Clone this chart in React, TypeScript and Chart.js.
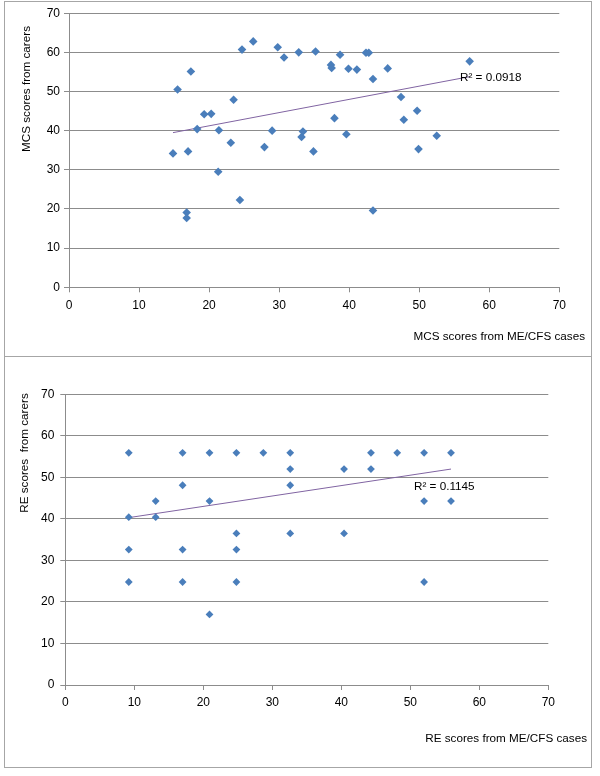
import React, { useEffect, useRef } from "react";
import { Chart, registerables } from "chart.js";

Chart.register(...registerables);

// ---- Data: MCS panel ----
const mcsCases = [
  14.85, 15.5, 16.8, 16.8, 17.0, 17.4, 18.3, 19.3, 20.3, 21.3, 21.4, 23.1, 23.5, 24.4, 24.7,
  26.3, 27.9, 29.0, 29.8, 30.7, 32.8, 33.2, 33.4, 34.9, 35.2, 37.4, 37.5, 37.9, 38.7, 39.6,
  39.9, 41.1, 42.4, 42.8, 43.4, 43.4, 45.5, 47.4, 47.8, 49.7, 49.9, 52.5, 57.2,
];
const mcsCarers = [
  34.2, 50.5, 19.1, 17.7, 34.7, 55.1, 40.4, 44.2, 44.3, 29.5, 40.1, 36.9, 47.9, 22.3, 60.7,
  62.8, 35.8, 40.0, 61.3, 58.7, 60.0, 38.4, 39.8, 34.7, 60.2, 56.8, 56.0, 43.2, 59.4, 39.1,
  55.8, 55.6, 59.9, 59.9, 53.2, 19.6, 55.9, 48.6, 42.8, 45.1, 35.3, 38.7, 57.7,
];
const mcsTrendX = [14.85, 57.2];
const mcsTrendY = [39.5, 53.8];
const mcsR2Label = "R\u00B2 = 0.0918";

// ---- Data: RE panel ----
const reCases = [
  9.2, 9.2, 9.2, 9.2, 13.1, 13.1, 17.0, 17.0, 17.0, 17.0, 20.9, 20.9, 20.9, 24.8, 24.8, 24.8,
  24.8, 28.7, 32.6, 32.6, 32.6, 32.6, 40.4, 40.4, 44.3, 44.3, 48.1, 52.0, 52.0, 52.0, 55.9, 55.9,
];
const reCarers = [
  55.9, 40.4, 32.6, 24.8, 44.3, 40.4, 55.9, 48.1, 32.6, 24.8, 55.9, 44.3, 17.0, 55.9, 36.5, 32.6,
  24.8, 55.9, 55.9, 52.0, 48.1, 36.5, 52.0, 36.5, 55.9, 52.0, 55.9, 55.9, 44.3, 24.8, 55.9, 44.3,
];
const reTrendX = [9.2, 55.9];
const reTrendY = [40.3, 52.0];
const reR2Label = "R\u00B2 = 0.1145";

const axisMin = 0;
const axisMax = 70;
const axisStep = 10;

const FONT = '"Liberation Sans", Arial, sans-serif';
const GRID = "#8c8c8c";
const MARKER = "#4A7EBB";
const TREND = "#8064A2";

const textPlugin = {
  id: "panelText",
  afterDraw(chart: any, _args: any, opts: any) {
    const ctx = chart.ctx;
    for (const t of opts.items || []) {
      ctx.save();
      ctx.font = `${t.size}px ${FONT}`;
      ctx.fillStyle = "#000";
      ctx.textAlign = t.align;
      ctx.textBaseline = "middle";
      ctx.translate(t.x, t.y);
      if (t.rotate) ctx.rotate(-Math.PI / 2);
      ctx.fillText(t.text, 0, 0);
      ctx.restore();
    }
  },
};

type PanelProps = {
  xs: number[];
  ys: number[];
  tx: number[];
  ty: number[];
  width: number;
  height: number;
  padTop: number;
  yAxisWidth: number;
  xAxisHeight: number;
  padRight: number;
  yTickPad: number;
  xTickPad: number;
  pointR: number;
  texts: any[];
};

function Panel(p: PanelProps) {
  const ref = useRef<HTMLCanvasElement>(null);
  useEffect(() => {
    if (!ref.current) return;
    const chart = new Chart(ref.current, {
      type: "scatter",
      data: {
        datasets: [
          {
            type: "line",
            data: p.tx.map((x, i) => ({ x, y: p.ty[i] })),
            borderColor: TREND,
            borderWidth: 1,
            pointRadius: 0,
            fill: false,
            order: 2,
          } as any,
          {
            data: p.xs.map((x, i) => ({ x, y: p.ys[i] })),
            pointStyle: "rectRot",
            pointRadius: p.pointR,
            pointHoverRadius: p.pointR,
            backgroundColor: MARKER,
            borderColor: MARKER,
            borderWidth: 0,
            order: 1,
          },
        ],
      },
      options: {
        animation: false,
        responsive: false,
        maintainAspectRatio: false,
        layout: { padding: { left: 0, right: p.padRight, top: p.padTop, bottom: 0 } },
        plugins: {
          legend: { display: false },
          tooltip: { enabled: false },
          panelText: { items: p.texts },
        } as any,
        scales: {
          x: {
            type: "linear",
            min: axisMin,
            max: axisMax,
            ticks: {
              stepSize: axisStep,
              color: "#000",
              font: { size: 12, family: FONT },
              padding: p.xTickPad,
              maxRotation: 0,
            },
            grid: {
              display: true,
              drawOnChartArea: false,
              drawTicks: true,
              tickLength: 5,
              color: GRID,
            },
            border: { display: true, color: GRID },
            afterFit: (s: any) => {
              s.height = p.xAxisHeight;
            },
          },
          y: {
            type: "linear",
            min: axisMin,
            max: axisMax,
            ticks: {
              stepSize: axisStep,
              color: "#000",
              font: { size: 12, family: FONT },
              padding: p.yTickPad,
            },
            grid: {
              display: true,
              drawOnChartArea: true,
              drawTicks: true,
              tickLength: 5,
              color: GRID,
            },
            border: { display: true, color: GRID },
            afterFit: (s: any) => {
              s.width = p.yAxisWidth;
            },
          },
        },
      } as any,
      plugins: [textPlugin],
    });
    return () => chart.destroy();
  }, []);
  return <canvas ref={ref} width={p.width} height={p.height} style={{ display: "block", width: p.width, height: p.height }} />;
}

export default function App() {
  return (
    <div style={{ position: "absolute", left: 0, top: 0, width: 600, height: 776, background: "#fff" }}>
      <div
        style={{
          position: "absolute",
          left: 4,
          top: 1,
          width: 586,
          height: 765,
          border: "1px solid #a6a6a6",
        }}
      />
      <div style={{ position: "absolute", left: 4, top: 356, width: 588, height: 1, background: "#a6a6a6" }} />
      <div style={{ position: "absolute", left: 5, top: 2 }}>
        <Panel
          xs={mcsCases}
          ys={mcsCarers}
          tx={mcsTrendX}
          ty={mcsTrendY}
          width={586}
          height={354}
          padTop={10.7}
          yAxisWidth={64}
          xAxisHeight={68.7}
          padRight={31.7}
          yTickPad={4}
          xTickPad={6}
          pointR={4.3}
          texts={[
            { text: "MCS scores from carers", x: 22, y: 87, align: "center", rotate: true, size: 11.7 },
            { text: "MCS scores from ME/CFS cases", x: 580, y: 335, align: "right", size: 11.7 },
            { text: mcsR2Label, x: 455, y: 76, align: "left", size: 11.7 },
          ]}
        />
      </div>
      <div style={{ position: "absolute", left: 5, top: 357 }}>
        <Panel
          xs={reCases}
          ys={reCarers}
          tx={reTrendX}
          ty={reTrendY}
          width={586}
          height={409}
          padTop={37.3}
          yAxisWidth={60.3}
          xAxisHeight={81}
          padRight={42.7}
          yTickPad={6}
          xTickPad={5.5}
          pointR={3.9}
          texts={[
            { text: "RE scores  from carers", x: 20, y: 96, align: "center", rotate: true, size: 11.7 },
            { text: "RE scores from ME/CFS cases", x: 582, y: 382, align: "right", size: 11.7 },
            { text: reR2Label, x: 409, y: 130, align: "left", size: 11.7 },
          ]}
        />
      </div>
    </div>
  );
}
